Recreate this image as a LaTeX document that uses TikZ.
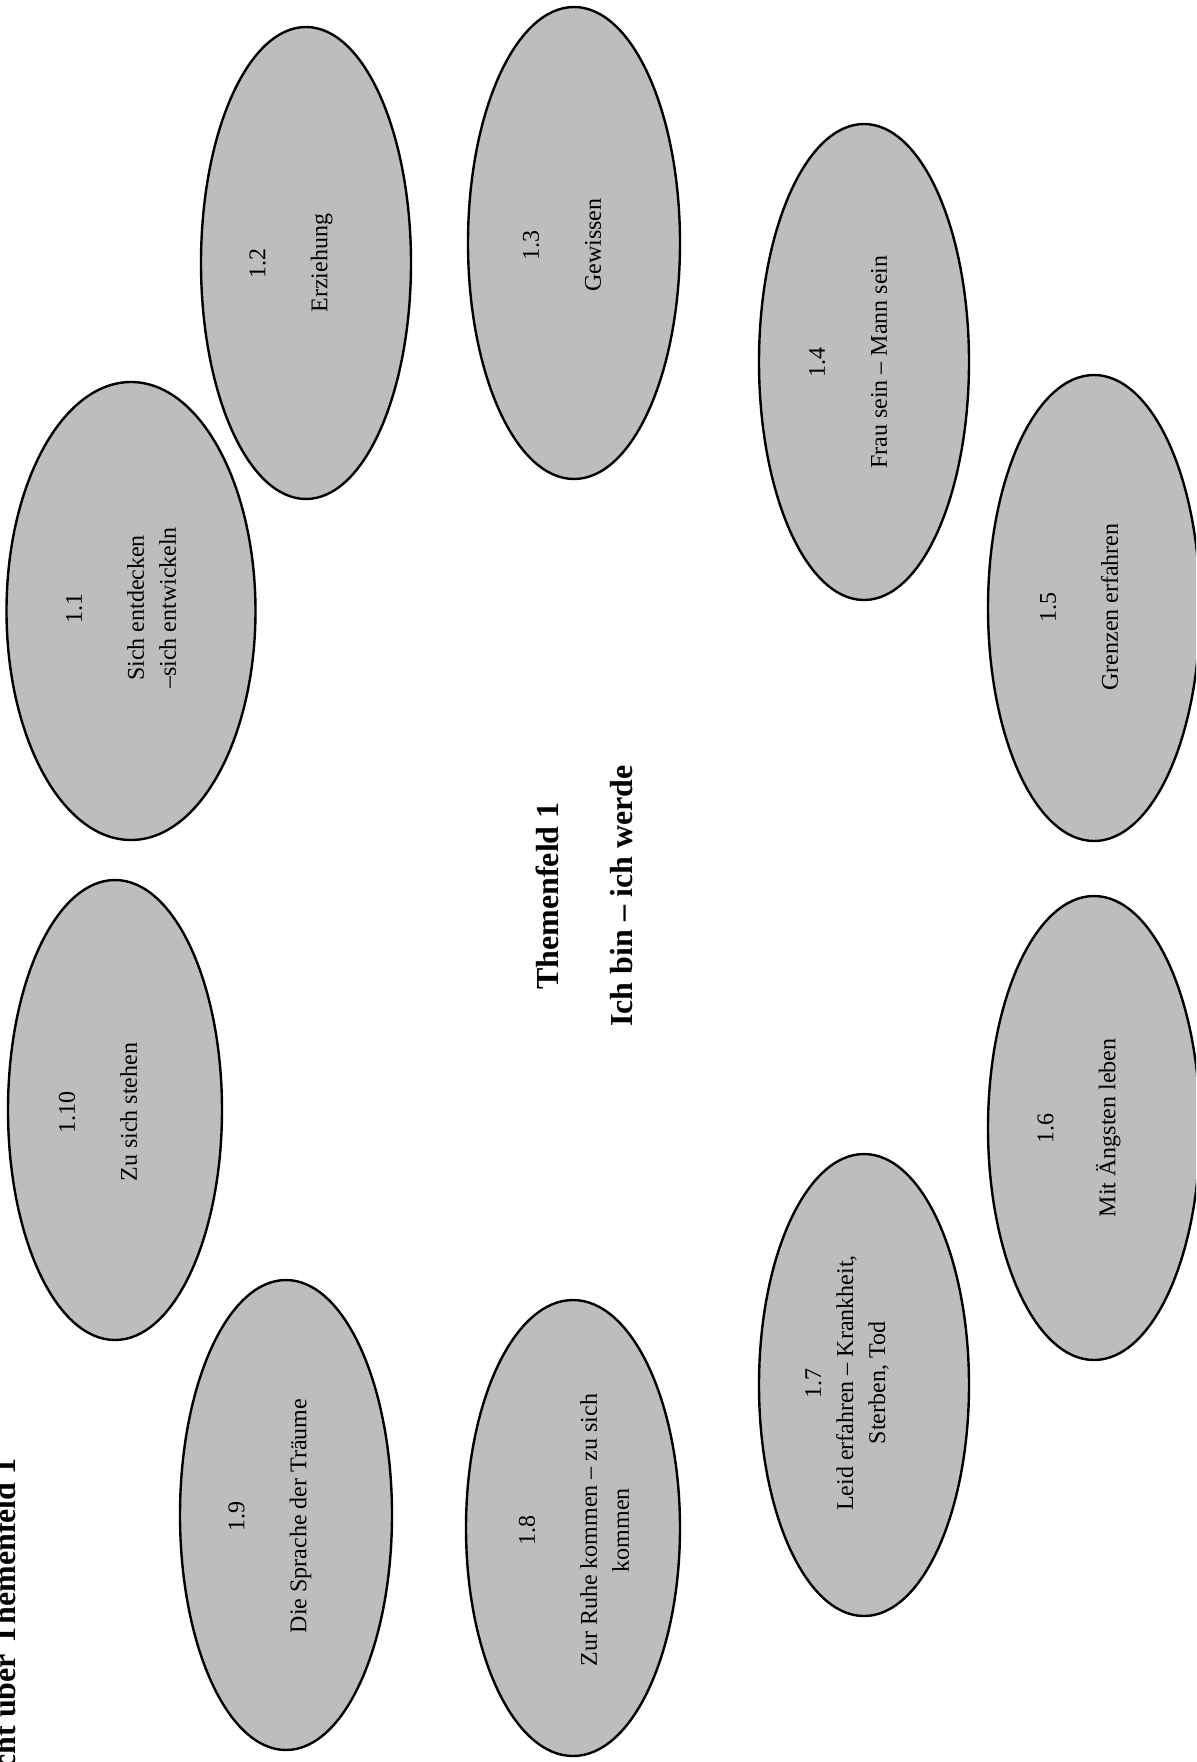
\documentclass[tikz,border=0pt]{standalone}
\usepackage{fontspec}
\setmainfont{Liberation Serif}
\usetikzlibrary{shapes.geometric}
\tikzset{
  ell/.style={ellipse, draw=black, line width=1.2pt, fill=black!26, inner sep=0pt},
  lbl/.style={rotate=90, align=center, inner sep=0pt, font=\fontsize{12}{16}\selectfont},
  big/.style={rotate=90, inner sep=0pt, font=\fontsize{16}{19}\selectfont\bfseries},
}
\begin{document}
\begin{tikzpicture}[x=0.5pt,y=-0.5pt]
\useasboundingbox (0,0) rectangle (1196,1762);
\begin{scope}
\clip (0,0) rectangle (1196,1762);
% ellipses: minimum width = rx pt, minimum height = ry pt
\node[ell, minimum width=124.5pt, minimum height=229pt] (e11) at (131,611) {};
\node[ell, minimum width=105pt, minimum height=236pt] (e12) at (306,263) {};
\node[ell, minimum width=106pt, minimum height=236pt] (e13) at (574,243) {};
\node[ell, minimum width=105pt, minimum height=238pt] (e14) at (864,362) {};
\node[ell, minimum width=106pt, minimum height=233pt] (e15) at (1094,608) {};
\node[ell, minimum width=106pt, minimum height=232pt] (e16) at (1094,1128) {};
\node[ell, minimum width=105pt, minimum height=231pt] (e17) at (864,1385) {};
\node[ell, minimum width=107pt, minimum height=228pt] (e18) at (573,1528) {};
\node[ell, minimum width=106pt, minimum height=235pt] (e19) at (286,1515) {};
\node[ell, minimum width=107pt, minimum height=230pt] (e110) at (115,1110) {};
% labels
\node[lbl] (t11) at (121,608) {1.1\\[15pt]Sich entdecken\\–sich entwickeln};
\node[lbl] (t12) at (291,263) {1.2\\[15pt]Erziehung};
\node[lbl] (t13) at (562,245) {1.3\\[15pt]Gewissen};
\node[lbl] (t14) at (848,362) {1.4\\[15pt]Frau sein – Mann sein};
\node[lbl] (t15) at (1079,607) {1.5\\[15pt]Grenzen erfahren};
\node[lbl] (t16) at (1079,1128) {1.6\\[15pt]Mit Ängsten leben};
\node[lbl] (t17) at (847,1383) {1.7\\Leid erfahren – Krankheit,\\Sterben, Tod};
\node[lbl] (t18) at (574,1530) {1.8\\[15pt]Zur Ruhe kommen – zu sich\\kommen};
\node[lbl] (t19) at (270,1516) {1.9\\[15pt]Die Sprache der Träume};
\node[lbl] (t110) at (98,1112) {1.10\\[15pt]Zu sich stehen};
% centre
\node[big] (tf1) at (547,896) {Themenfeld 1};
\node[big] (tf2) at (622,896) {Ich bin – ich werde};
% heading, cut off at the page edge as in the scan
\node[big, anchor=base east] (head) at (15,1458) {cht über Themenfeld 1};
\end{scope}
\end{tikzpicture}
\end{document}
